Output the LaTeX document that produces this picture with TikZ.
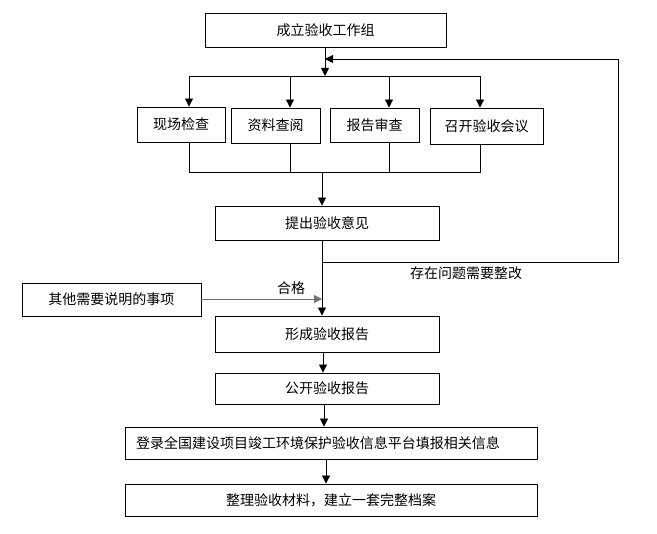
\documentclass[tikz,border=0pt]{standalone}
\usepackage{fontspec}
\setmainfont{Noto Sans CJK SC}
\usetikzlibrary{arrows.meta}
\begin{document}
\begin{tikzpicture}[x=1pt,y=-1pt,
  box/.style={draw,line width=0.9pt,inner sep=0pt,font=\fontsize{14}{16}\selectfont},
  ln/.style={line width=0.9pt},
  arr/.style={line width=0.9pt,-{Triangle[length=8pt,width=8pt]}},
  lbl/.style={font=\fontsize{14}{16}\selectfont,inner sep=0pt}]
\useasboundingbox (0,0) rectangle (657,534);
\node[box,minimum width=241pt,minimum height=34pt] (b1) at (325.5,30) {成立验收工作组};
\node[box,minimum width=88pt,minimum height=35pt] (b2) at (181,124.5) {现场检查};
\node[box,minimum width=89pt,minimum height=35pt] (b3) at (275.5,125.5) {资料查阅};
\node[box,minimum width=89pt,minimum height=34pt] (b4) at (374.5,125) {报告审查};
\node[box,minimum width=113pt,minimum height=36pt] (b5) at (486.5,126) {召开验收会议};
\node[box,minimum width=224pt,minimum height=34pt] (b6) at (327,223) {提出验收意见};
\node[box,minimum width=179pt,minimum height=33pt] (b7) at (111.5,299.5) {其他需要说明的事项};
\node[box,minimum width=224pt,minimum height=36pt] (b8) at (327,334) {形成验收报告};
\node[box,minimum width=224pt,minimum height=31pt] (b9) at (327,388.5) {公开验收报告};
\node[box,text width=390pt,align=left,inner xsep=11pt,minimum height=32pt] (b10) at (331,443) {登录全国建设项目竣工环境保护验收信息平台填报相关信息};
\node[box,minimum width=412pt,minimum height=32pt] (b11) at (331,500) {整理验收材料，建立一套完整档案};
% top split
\coordinate (s) at (325,76);
\coordinate (sl) at (189,76);
\coordinate (sr) at (480,76);
\draw[arr] (b1.south -| s) -- (s);
\draw[ln] (sl) -- (sr);
\draw[arr] (sl) -- (b2.north -| sl);
\draw[arr] (290,76) -- (b3.north -| 290,0);
\draw[arr] (389,76) -- (b4.north -| 389,0);
\draw[arr] (sr) -- (b5.north -| sr);
% join
\coordinate (jl) at (189,172);
\coordinate (jr) at (480,172);
\coordinate (jm) at (322,172);
\draw[ln] (b2.south -| jl) -- (jl) -- (jr) -- (b5.south -| jr);
\draw[ln] (b3.south -| 290,0) -- (290,172);
\draw[ln] (b4.south -| 389,0) -- (389,172);
\draw[arr] (jm) -- (b6.north -| jm);
% pass
\draw[arr] (b6.south -| jm) -- (b8.north -| jm);
\draw[arr,draw=black!55] (b7.east |- 0,299) -- (322,299);
\node[lbl] (ok) at (291,288) {合格};
% feedback
\coordinate (f1) at (322,262);
\coordinate (f2) at (618,262);
\coordinate (f3) at (618,59);
\coordinate (f4) at (325,59);
\draw[arr] (f1) -- (f2) -- (f3) -- (f4);
\node[lbl] (fb) at (466,273) {存在问题需要整改};
% bottom chain
\draw[arr] (b8.south -| 323,0) -- (b9.north -| 323,0);
\draw[arr] (b9.south -| 324,0) -- (b10.north -| 324,0);
\draw[arr] (b10.south -| 326,0) -- (b11.north -| 326,0);
\end{tikzpicture}
\end{document}
